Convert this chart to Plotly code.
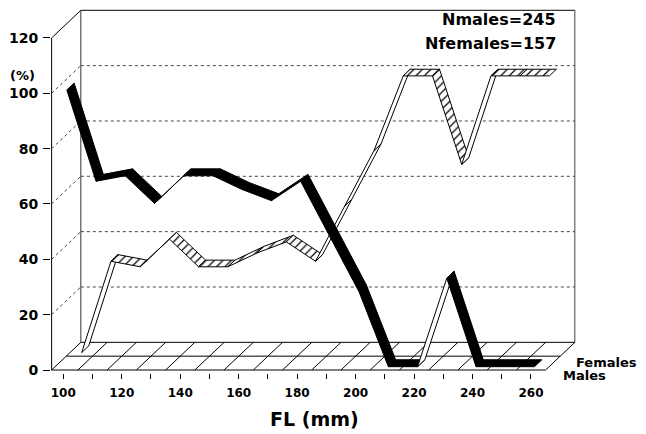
import plotly.graph_objects as go

# ---------------- data ----------------
fl_mm = [100, 110, 120, 130, 140, 150, 160, 170, 180, 190, 200, 210, 220, 230, 240, 250, 260]
males_pct = [100, 67, 69, 59, 69, 69, 64, 60, 67, 47, 27, 0, 0, 32, 0, 0, 0]
females_pct = [0, 33, 31, 41, 31, 31, 36, 40, 33, 53, 73, 100, 100, 68, 100, 100, 100]
x_ticks = [100, 110, 120, 130, 140, 150, 160, 170, 180, 190, 200, 210, 220, 230, 240, 250, 260]
x_tick_text = ["100", "", "120", "", "140", "", "160", "", "180", "", "200", "", "220", "", "240", "", "260"]
y_ticks = [0, 20, 40, 60, 80, 100, 120]
n_text = ["Nmales=245", "Nfemales=157"]
series_names = ["Males", "Females"]

# ---------------- layout geometry (target positions in page pixels) ----------------
W, H = 646, 434
OFF = 8                                # default page margin of the html body
PL, PR, PT, PB = 51, 582, 8, 373       # plot area in page pixels
PX_MM, PX_PCT = 2.923, 2.767           # pixel per data unit
PIX_X100, PIX_Y0 = 63.3, 370.0         # page pixel of x=100 and y=0
X0, X1 = 96.0, 265.0                   # floor front extent
DX, DY = 10.0, 10.0                    # full depth offset (data units)

ML, MT = PL - OFF, PT - OFF
MR, MB = W - (PR - OFF), H - (PB - OFF)
xr = [100 - (PIX_X100 - PL) / PX_MM, 100 + (PR - PIX_X100) / PX_MM]
yr = [(PIX_Y0 - PB) / PX_PCT, (PIX_Y0 - PT) / PX_PCT]


def pgx(p):  # page pixel -> paper x
    return (p - PL) / (PR - PL)


def pgy(p):  # page pixel -> paper y
    return (PB - p) / (PB - PT)


FONT = "DejaVu Sans"
fig = go.Figure()


def ribbon(xs, vs, d0, d1, top_style, name):
    """draw a pseudo-3D ribbon: one parallelogram per segment"""
    for i in range(len(xs) - 1):
        xa, xb = xs[i], xs[i + 1]
        va, vb = vs[i], vs[i + 1]
        px = [xa + d0 * DX, xb + d0 * DX, xb + d1 * DX, xa + d1 * DX, xa + d0 * DX]
        py = [va + d0 * DY, vb + d0 * DY, vb + d1 * DY, va + d1 * DY, va + d0 * DY]
        cross = (xb - xa) * PX_MM * DY * PX_PCT - (vb - va) * PX_PCT * DX * PX_MM
        kw = dict(x=px, y=py, mode="lines", fill="toself",
                  line=dict(color="black", width=1), hoverinfo="skip",
                  showlegend=False, name=name)
        if cross > 0:  # top face visible
            if top_style == "black":
                kw["fillcolor"] = "black"
            else:
                kw["fillcolor"] = "white"
                kw["fillpattern"] = dict(shape="/", fgcolor="black", bgcolor="white",
                                         size=6, solidity=0.2)
        else:
            kw["fillcolor"] = "white"
        fig.add_trace(go.Scatter(**kw))


ribbon(fl_mm, females_pct, 0.63, 0.87, "hatch", series_names[1])
ribbon(fl_mm, males_pct, 0.12, 0.37, "black", series_names[0])

# ---------------- frame (pseudo-3D box) ----------------
shapes = []


def seg(x0, y0, x1, y1, dash="solid", color="black", width=1):
    shapes.append(dict(type="line", xref="x", yref="y", x0=x0, y0=y0, x1=x1, y1=y1,
                       line=dict(color=color, width=width, dash=dash), layer="below"))


top = y_ticks[-1]
for v in y_ticks[1:-1]:
    seg(X0 + DX, v + DY, X1 + DX, v + DY, dash="dot", color="#444")
    seg(X0, v, X0 + DX, v + DY, dash="dot", color="#444")
seg(X0, 0, X0, top)
seg(X0, top, X0 + DX, top + DY)
seg(X0 + DX, top + DY, X1 + DX, top + DY)
seg(X0 + DX, DY, X0 + DX, top + DY, color="#333")
seg(X1 + DX, DY, X1 + DX, top + DY, color="#444")
seg(X0, 0, X1, 0)
seg(X0 + DX / 2, DY / 2, X1 + DX / 2, DY / 2)
seg(X0 + DX, DY, X1 + DX, DY)
for xd in [X0] + [b + 5 for b in fl_mm[:-1]] + [X1]:
    seg(xd, 0, xd + DX, DY)

# ---------------- text ----------------
def label(px, py, txt, size, xanchor):
    return dict(xref="paper", yref="paper", x=pgx(px), y=pgy(py), text="<b>%s</b>" % txt,
                showarrow=False, xanchor=xanchor, yanchor="middle",
                font=dict(family=FONT, size=size, color="black"))


ann = [
    label(558, 20, n_text[0], 16, "right"),
    label(558, 43, n_text[1], 16, "right"),
    label(574, 362, series_names[1], 13, "left"),
    label(561, 375, series_names[0], 13, "left"),
    label(314, 419, "FL (mm)", 19, "center"),
    label(22, 75, "(%)", 13, "center"),
]

fig.update_layout(
    template="none",
    width=W, height=H,
    margin=dict(l=ML, r=MR, t=MT, b=MB, pad=0),
    paper_bgcolor="white", plot_bgcolor="white",
    showlegend=False,
    shapes=shapes,
    annotations=ann,
    xaxis=dict(range=xr, showgrid=False, zeroline=False, showline=False,
               tickmode="array", tickvals=x_ticks, ticktext=x_tick_text,
               ticks="outside", ticklen=5, tickcolor="black", tickwidth=1,
               ticklabelstandoff=4,
               tickfont=dict(family=FONT, size=12, color="black", weight="bold"),
               automargin=False, fixedrange=True),
    yaxis=dict(range=yr, showgrid=False, zeroline=False, showline=False,
               tickmode="array", tickvals=y_ticks,
               ticks="outside", ticklen=7, tickcolor="black", tickwidth=1,
               ticklabelstandoff=2,
               tickfont=dict(family=FONT, size=14, color="black", weight="bold"),
               automargin=False, fixedrange=True),
)

fig.write_html("out.html")
